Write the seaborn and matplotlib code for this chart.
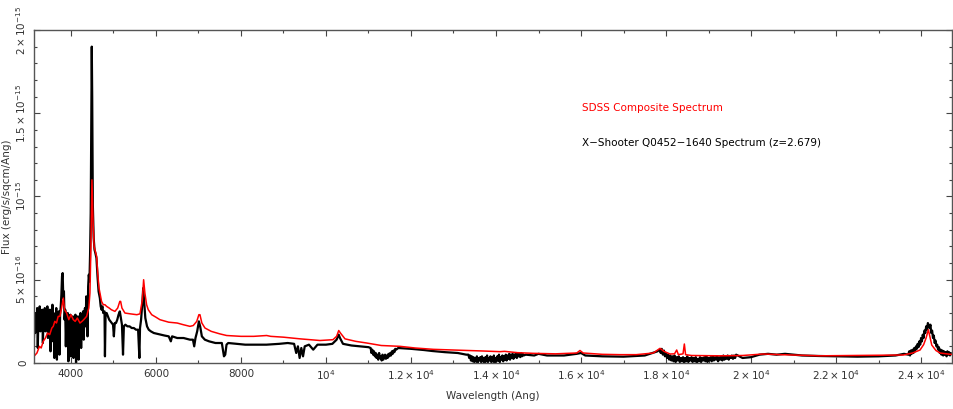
import numpy as np
import matplotlib
matplotlib.use("Agg")
import matplotlib.pyplot as plt
import seaborn as sns

# -----------------------------
# Spectra (flux in units of 1e-16 erg/s/sqcm/Ang)
# -----------------------------
SCALE = 1e-16

# X-Shooter noisy stretches, regularly sampled: (start, step, flux values)
xs_blue = (3130, 15, [
    1.5, 2.9, 1.8, 3.0, 1.9, 3.3, 0.9, 2.8, 2.2, 3.4,
    1.9, 2.9, 2.4, 3.2, 1.2, 2.7, 2.1, 3.3, 1.9, 3.0,
    2.5, 3.4, 1.5, 2.8, 2.3, 3.2, 0.7, 2.9, 2.0, 3.5,
    1.3, 3.0, 0.3, 2.8, 2.2, 3.3, 0.2, 2.6, 1.7, 3.1,
    0.5, 2.9, 3.4, 4.1, 5.2, 5.4, 3.9, 4.3, 2.6, 3.2,
    1.0, 2.9, 2.4, 3.0, 0.1, 2.7, 2.2, 2.9, 0.4, 2.6,
    1.8, 2.8, 0.3, 2.5, 2.1, 2.9, 0.0, 2.6, 1.5, 2.8,
    0.2, 2.5, 2.0, 3.0, 0.9, 2.7, 2.3, 3.1, 1.4, 2.9,
    3.3, 2.2, 4.0, 3.3, 1.6, 4.6, 5.3, 4.9, 6.5,
])
xs_band_j = (11050, 20, [
    0.9, 0.6, 0.8, 0.5, 0.7, 0.4, 0.6, 0.3, 0.5, 0.2,
    0.6, 0.3, 0.4, 0.15, 0.5, 0.2, 0.35, 0.5, 0.25, 0.45,
    0.3, 0.55, 0.4, 0.6, 0.45, 0.7, 0.55, 0.75, 0.65, 0.85,
    0.8,
])
xs_band_jh = (13350, 20, [
    0.5, 0.3, 0.45, 0.15, 0.4, 0.1, 0.35, 0.05, 0.3, 0.1,
    0.4, 0.0, 0.3, 0.15, 0.35, 0.05, 0.4, 0.1, 0.3, 0.0,
    0.35, 0.1, 0.45, 0.05, 0.3, 0.15, 0.4, 0.05, 0.35, 0.1,
    0.45, 0.0, 0.3, 0.1, 0.4, 0.15, 0.5, 0.05, 0.35, 0.2,
    0.45, 0.1, 0.4, 0.2, 0.5, 0.15, 0.45, 0.25, 0.55, 0.2,
    0.5, 0.3, 0.55, 0.25, 0.5, 0.35, 0.6, 0.3, 0.55, 0.4,
    0.55, 0.35, 0.6, 0.4, 0.55, 0.45,
])
xs_band_hk = (17850, 25, [
    0.8, 0.6, 0.85, 0.5, 0.75, 0.4, 0.6, 0.3, 0.5, 0.2,
    0.45, 0.15, 0.4, 0.1, 0.45, 0.05, 0.35, 0.15, 0.4, 0.05,
    0.3, 0.1, 0.35, 0.0, 0.3, 0.1, 0.4, 0.05, 0.3, 0.15,
    0.35, 0.05, 0.3, 0.1, 0.35, 0.0, 0.25, 0.1, 0.35, 0.05,
    0.3, 0.15, 0.35, 0.1, 0.4, 0.05, 0.3, 0.15, 0.35, 0.1,
    0.4, 0.15, 0.35, 0.2, 0.4, 0.1, 0.35, 0.2, 0.4, 0.15,
    0.45, 0.2, 0.4, 0.25, 0.45, 0.2, 0.4, 0.3, 0.45, 0.25,
    0.45, 0.3, 0.5,
])
xs_halpha = (23700, 20, [
    0.5, 0.7, 0.45, 0.75, 0.55, 0.8, 0.6, 0.9, 0.7, 1.0,
    0.85, 1.15, 0.95, 1.3, 1.1, 1.5, 1.3, 1.7, 1.5, 1.95,
    1.8, 2.2, 2.0, 2.4, 2.25, 2.1, 2.3, 1.8, 1.95, 1.5,
    1.65, 1.2, 1.35, 1.0, 1.1, 0.8, 0.95, 0.6, 0.8, 0.5,
    0.75, 0.45, 0.7, 0.5, 0.65, 0.4, 0.7, 0.5, 0.65, 0.45,
    0.6,
])

# X-Shooter, remaining stretches
xs_wave = [
    4465, 4480, 4490, 4500, 4515, 4535, 4555, 4575, 4600, 4625,
    4650, 4680, 4700, 4720, 4740, 4760, 4790, 4800, 4815, 4840,
    4870, 4900, 4930, 4960, 4990, 5010, 5030, 5060, 5090, 5120,
    5150, 5175, 5200, 5225, 5245, 5280, 5330, 5380, 5430, 5480,
    5530, 5580, 5610, 5625, 5650, 5680, 5700, 5720, 5750, 5790,
    5830, 5880, 5950, 6030, 6100, 6200, 6300, 6350, 6380, 6500,
    6650, 6800, 6870, 6900, 6930, 6970, 7010, 7040, 7080, 7150,
    7250, 7400, 7550, 7600, 7630, 7660, 7700, 7900, 8100, 8300,
    8600, 8900, 9100, 9250, 9300, 9340, 9380, 9420, 9460, 9500,
    9600, 9700, 9800, 10000, 10150, 10250, 10300, 10330, 10400, 10600,
    10800, 11000, 11700, 12000, 12300, 12500, 12800, 13100, 13300, 14700,
    14900, 15000, 15200, 15600, 15900, 16000, 16100, 16500, 17000, 17500,
    17800, 19800, 20000, 20200, 20400, 20600, 20800, 21000, 21200, 21600,
    22000, 22500, 23000, 23400, 23600,
]
xs_flux = [
    9.0, 15.0, 19.0, 16.0, 9.5, 7.5, 6.8, 6.6, 6.3, 5.2,
    4.3, 3.9, 3.4, 3.2, 3.4, 3.0, 3.1, 0.4, 3.0, 3.0,
    2.8, 2.6, 2.5, 2.4, 2.3, 1.6, 2.4, 2.4, 2.6, 2.9,
    3.1, 2.7, 2.3, 0.5, 2.2, 2.3, 2.2, 2.2, 2.1, 2.1,
    2.0, 2.0, 0.3, 2.1, 2.6, 3.6, 4.5, 3.8, 2.7, 2.2,
    2.0, 1.9, 1.8, 1.75, 1.7, 1.65, 1.6, 1.3, 1.6, 1.5,
    1.5, 1.4, 1.4, 1.0, 1.5, 1.9, 2.5, 2.2, 1.6, 1.4,
    1.3, 1.2, 1.2, 0.4, 0.5, 1.1, 1.2, 1.15, 1.1, 1.1,
    1.1, 1.15, 1.2, 1.15, 0.6, 1.0, 0.3, 0.9, 0.4, 1.0,
    1.1, 0.8, 1.1, 1.1, 1.15, 1.4, 1.7, 1.5, 1.15, 1.05,
    1.0, 0.95, 0.9, 0.85, 0.78, 0.72, 0.65, 0.6, 0.5, 0.5,
    0.45, 0.55, 0.45, 0.45, 0.55, 0.6, 0.45, 0.4, 0.38, 0.45,
    0.7, 0.3, 0.35, 0.5, 0.55, 0.5, 0.55, 0.5, 0.45, 0.42,
    0.4, 0.38, 0.4, 0.45, 0.55,
]

# SDSS composite, redshifted
sdss_wave = [
    3130, 3200, 3260, 3300, 3348, 3400, 3450, 3500, 3550, 3584,
    3620, 3660, 3700, 3741, 3780, 3820, 3850, 3898, 3950, 4000,
    4055, 4100, 4150, 4212, 4260, 4300, 4369, 4420, 4447, 4470,
    4494, 4520, 4545, 4565, 4604, 4630, 4660, 4682, 4720, 4760,
    4800, 4839, 4900, 4950, 5035, 5100, 5150, 5169, 5200, 5270,
    5400, 5550, 5624, 5680, 5710, 5740, 5780, 5819, 5900, 6000,
    6094, 6300, 6500, 6642, 6800, 6878, 6960, 7010, 7035, 7080,
    7153, 7300, 7500, 7663, 8000, 8300, 8604, 8700, 9000, 9388,
    9859, 10165, 10250, 10300, 10340, 10447, 10700, 10957, 11300, 11741,
    12100, 12525, 13000, 13694, 14094, 14200, 14500, 14870, 15400, 15900,
    15976, 16050, 16500, 16918, 17300, 17700, 17859, 17950, 18094, 18200,
    18251, 18290, 18400, 18431, 18460, 18600, 19271, 19800, 20290, 20700,
    21624, 22500, 23584, 23800, 23976, 24060, 24118, 24172, 24215, 24251,
    24350, 24447, 24753,
]
sdss_flux = [
    0.4, 0.6, 1.0, 0.9, 1.3, 1.5, 1.8, 1.7, 2.1, 2.2,
    2.5, 2.4, 2.8, 2.8, 3.3, 3.9, 3.2, 3.0, 2.6, 2.9,
    2.6, 2.5, 2.7, 2.4, 2.5, 2.6, 2.8, 3.3, 4.2, 7.0,
    11.0, 8.5, 7.0, 6.8, 6.4, 5.4, 4.5, 4.2, 3.7, 3.5,
    3.5, 3.4, 3.3, 3.2, 3.1, 3.3, 3.7, 3.7, 3.3, 3.0,
    2.95, 2.9, 2.95, 3.8, 5.0, 4.2, 3.5, 3.2, 2.9, 2.75,
    2.6, 2.45, 2.4, 2.3, 2.2, 2.25, 2.5, 2.9, 2.9, 2.4,
    2.1, 1.9, 1.75, 1.65, 1.6, 1.6, 1.65, 1.6, 1.55, 1.45,
    1.35, 1.4, 1.6, 1.95, 1.8, 1.45, 1.3, 1.2, 1.05, 1.0,
    0.9, 0.82, 0.78, 0.72, 0.68, 0.7, 0.62, 0.58, 0.55, 0.6,
    0.75, 0.6, 0.52, 0.5, 0.5, 0.6, 0.88, 0.7, 0.54, 0.55,
    0.78, 0.5, 0.55, 1.14, 0.5, 0.45, 0.43, 0.45, 0.54, 0.5,
    0.43, 0.45, 0.48, 0.6, 0.78, 1.1, 1.5, 2.0, 1.5, 1.08,
    0.75, 0.6, 0.5,
]

# stitch the X-Shooter pieces together in wavelength order
waves, fluxes = [np.array(xs_wave, float)], [np.array(xs_flux, float)]
for start, step, vals in (xs_blue, xs_band_j, xs_band_jh, xs_band_hk, xs_halpha):
    waves.append(start + step * np.arange(len(vals)))
    fluxes.append(np.array(vals, float))
xshooter_wave = np.concatenate(waves)
xshooter_flux = np.concatenate(fluxes)
order = np.argsort(xshooter_wave, kind="stable")
xshooter_wave = xshooter_wave[order]
xshooter_flux = xshooter_flux[order] * SCALE
sdss_wave = np.array(sdss_wave)
sdss_flux = np.array(sdss_flux) * SCALE

x_major = [4000, 6000, 8000, 10000, 12000, 14000, 16000, 18000, 20000, 22000, 24000]
x_labels = ["4000", "6000", "8000", r"$10^{4}$", r"$1.2\times10^{4}$", r"$1.4\times10^{4}$",
            r"$1.6\times10^{4}$", r"$1.8\times10^{4}$", r"$2\times10^{4}$",
            r"$2.2\times10^{4}$", r"$2.4\times10^{4}$"]
y_major = [0, 5e-16, 1e-15, 1.5e-15, 2e-15]
y_labels = ["0", r"$5\times10^{-16}$", r"$10^{-15}$", r"$1.5\times10^{-15}$", r"$2\times10^{-15}$"]

# -----------------------------
# Plot
# -----------------------------
sns.set_style("white")
plt.rcParams["font.family"] = ["DejaVu Sans"]
plt.rcParams["mathtext.fontset"] = "dejavusans"
plt.rcParams["mathtext.default"] = "regular"

fig = plt.figure(figsize=(9.54, 4.09), dpi=100)
ax = fig.add_axes([0.0356, 0.1125, 0.9624, 0.8142])

sns.lineplot(x=xshooter_wave, y=xshooter_flux, color="black", linewidth=1.6,
             estimator=None, sort=False, ax=ax)
sns.lineplot(x=sdss_wave, y=sdss_flux, color="red", linewidth=1.1,
             estimator=None, sort=False, ax=ax)

ax.set_xlim(3130, 24730)
ax.set_ylim(0, 2e-15)

txt = "#333333"
ax.set_xticks(x_major)
ax.set_xticklabels(x_labels, fontsize=7.5, color=txt)
ax.set_xticks(np.arange(4000, 24731, 1000), minor=True)
ax.set_yticks(y_major)
ax.set_yticklabels(y_labels, fontsize=7.5, color=txt, rotation=90, va="center")
ax.set_yticks(np.arange(0, 2.01e-15, 1e-16), minor=True)

ax.tick_params(which="both", direction="in", bottom=True, left=True, top=True, right=True,
               color="#444444", width=0.8)
ax.tick_params(which="major", length=4.0, pad=4)
ax.tick_params(which="minor", length=2.2)
for s in ax.spines.values():
    s.set_color("#555555")
    s.set_linewidth(1.0)

ax.set_xlabel("Wavelength (Ang)", fontsize=7.5, color=txt, labelpad=6)
ax.set_ylabel("Flux (erg/s/sqcm/Ang)", fontsize=7.5, color=txt, labelpad=2)

ax.text(0.597, 0.766, "SDSS Composite Spectrum", transform=ax.transAxes,
        color="red", fontsize=7.5, va="center")
ax.text(0.597, 0.661, "X\u2212Shooter Q0452\u22121640 Spectrum (z=2.679)", transform=ax.transAxes,
        color="black", fontsize=7.5, va="center")

fig.savefig("out.png", dpi=100)
